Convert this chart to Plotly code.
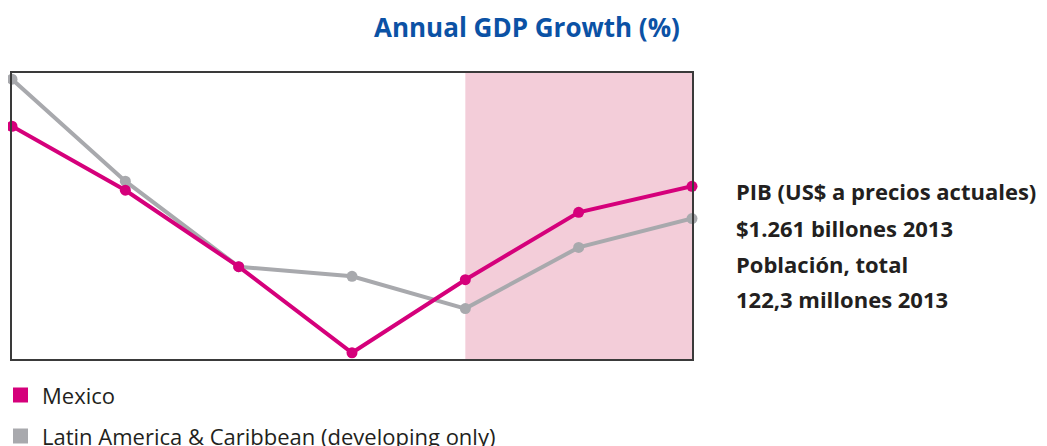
import plotly.graph_objects as go

years = [2010, 2011, 2012, 2013, 2014, 2015, 2016]
mexico = [5.10, 3.97, 2.62, 1.10, 2.39, 3.58, 4.04]
lac = [5.93, 4.13, 2.62, 2.45, 1.88, 2.96, 3.47]
forecast_start, forecast_end = 2014, 2016
info_lines = ["PIB (US$ a precios actuales)", "$1.261 billones 2013",
              "Población, total", "122,3 millones 2013"]
series_names = ["Mexico", "Latin America & Caribbean (developing only)"]

MAG = "#D5007B"
GRY = "#A8A9AD"
PINK = "#F3CDD9"
TXT = "#231F20"
FONT = "Open Sans"

OFF = 8  # page body margin
W, H = 1047, 446
L, T = 12 - OFF, 73 - OFF
pw, ph = 680, 286
R = W - L - pw
B = H - T - ph


def px(x):
    return (x - OFF - L) / pw


def py(y):
    return (T + ph - (y - OFF)) / ph


fig = go.Figure()

fig.add_trace(go.Scatter(x=years, y=lac, mode="lines+markers", name=series_names[1], showlegend=False,
                         line=dict(color=GRY, width=4), marker=dict(size=11, color=GRY), cliponaxis=False))
fig.add_trace(go.Scatter(x=years, y=mexico, mode="lines+markers", name=series_names[0], showlegend=False,
                         line=dict(color=MAG, width=4), marker=dict(size=11, color=MAG), cliponaxis=False))

shapes = [dict(type="rect", xref="x", yref="paper", x0=forecast_start, x1=forecast_end, y0=0, y1=1,
               fillcolor=PINK, line_width=0, layer="below")]

annotations = [dict(text="<b>Annual GDP Growth (%)</b>", x=px(527), y=py(27),
                    xref="paper", yref="paper", showarrow=False, xanchor="center", yanchor="middle",
                    font=dict(family=FONT, size=26, color="#0B52A5"))]
ys = [191, 228, 264, 299]
for t, yp in zip(info_lines, ys):
    annotations.append(dict(text="<b>%s</b>" % t, x=px(734), y=py(yp),
                            xref="paper", yref="paper", showarrow=False, xanchor="left", yanchor="middle",
                            font=dict(family=FONT, size=22, color=TXT)))

for name, col, yc in [(series_names[0], MAG, 395), (series_names[1], GRY, 436)]:
    shapes.append(dict(type="rect", xref="paper", yref="paper", x0=px(13), x1=px(28),
                       y0=py(yc - 7.5), y1=py(yc + 7.5), fillcolor=col, line_width=0, layer="above"))
    annotations.append(dict(text=name, x=px(40), y=py(yc), xref="paper", yref="paper", showarrow=False,
                            xanchor="left", yanchor="middle", font=dict(family=FONT, size=22, color=TXT)))

fig.update_layout(
    width=W, height=H, margin=dict(l=L, r=R, t=T, b=B),
    paper_bgcolor="white", plot_bgcolor="rgba(0,0,0,0)",
    xaxis=dict(range=[years[0], years[-1]], showgrid=False, zeroline=False, showticklabels=False,
               showline=True, linecolor="#3a3a3a", linewidth=1.5, mirror=True, ticks=""),
    yaxis=dict(range=[0.99, 6.04], showgrid=False, zeroline=False, showticklabels=False,
               showline=True, linecolor="#3a3a3a", linewidth=1.5, mirror=True, ticks=""),
    annotations=annotations,
    shapes=shapes,
    showlegend=False,
)
fig.write_html("out.html")
